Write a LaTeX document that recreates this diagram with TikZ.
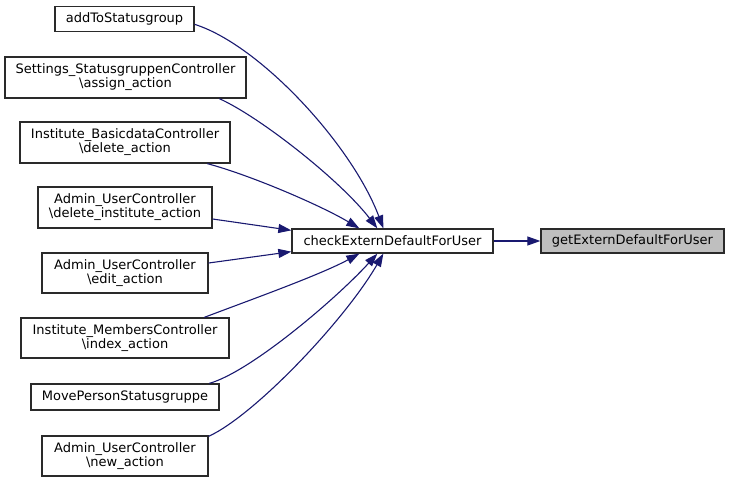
\documentclass[tikz,border=0pt]{standalone}
\usepackage{fontspec}
\setmainfont{DejaVu Sans}
\usetikzlibrary{arrows.meta,calc}
\definecolor{edgeblue}{HTML}{191970}
\definecolor{boxgray}{HTML}{BFBFBF}
\definecolor{boxline}{HTML}{2A2A2A}
\tikzset{
  fnbox/.style={draw=boxline, line width=1.3pt, inner sep=0pt, align=center,
    font=\fontsize{13}{14}\selectfont},
  calledge/.style={draw=edgeblue, line width=1.1pt, -{Triangle[length=13pt,width=9pt]}}
}
\begin{document}
\begin{tikzpicture}[x=1pt,y=-1pt]
\useasboundingbox (0,0) rectangle (729,482);
% source nodes
\node[fnbox, minimum width=139pt, minimum height=25pt] (add) at (124.5,19) {addToStatusgroup};
\node[fnbox, minimum width=241pt, minimum height=41pt] (assign) at (125.5,77.5) {Settings\_StatusgruppenController\\\textbackslash assign\_action};
\node[fnbox, minimum width=210pt, minimum height=41pt] (basic) at (125,142.5) {Institute\_BasicdataController\\\textbackslash delete\_action};
\node[fnbox, minimum width=174pt, minimum height=41pt] (delinst) at (125,207.5) {Admin\_UserController\\\textbackslash delete\_institute\_action};
\node[fnbox, minimum width=166pt, minimum height=40pt] (edit) at (125,273) {Admin\_UserController\\\textbackslash edit\_action};
\node[fnbox, minimum width=208pt, minimum height=40pt] (index) at (125,338) {Institute\_MembersController\\\textbackslash index\_action};
\node[fnbox, minimum width=188pt, minimum height=26pt] (move) at (125,397) {MovePersonStatusgruppe};
\node[fnbox, minimum width=166pt, minimum height=40pt] (new) at (125,456) {Admin\_UserController\\\textbackslash new\_action};
% targets
\node[fnbox, minimum width=201pt, minimum height=24pt] (check) at (392.5,241) {checkExternDefaultForUser};
\node[fnbox, fill=boxgray, minimum width=183pt, minimum height=24pt] (get) at (632.5,241) {getExternDefaultForUser};
% anchor coordinates on check
\coordinate (tA) at ($(check.north west)+(92,0)$);
\coordinate (tB) at ($(check.north west)+(86,0)$);
\coordinate (tC) at ($(check.north west)+(68,0)$);
\coordinate (tD) at ($(check.north west)+(0,2)$);
\coordinate (tE) at ($(check.south west)+(0,-2)$);
\coordinate (tF) at ($(check.south west)+(68,0)$);
\coordinate (tG) at ($(check.south west)+(86,0)$);
\coordinate (tH) at ($(check.south west)+(92,0)$);
% edges
\draw[calledge] ($(add.north east)+(0,18.5)$) .. controls (260,45) and (352,145) .. (tA);
\draw[calledge] ($(assign.south west)+(215,0)$) .. controls (260,117) and (340,180) .. (tB);
\draw[calledge] ($(basic.south west)+(188,0)$) .. controls (250,175) and (320,205) .. (tC);
\draw[calledge] ($(delinst.east)+(0,11.5)$) -- (tD);
\draw[calledge] ($(edit.east)+(0,-10)$) -- (tE);
\draw[calledge] ($(index.north west)+(184,0)$) .. controls (250,300) and (320,275) .. (tF);
\draw[calledge] ($(move.north west)+(179,0)$) .. controls (250,372) and (335,300) .. (tG);
\draw[calledge] ($(new.north east)+(0,1)$) .. controls (255,415) and (345,320) .. (tH);
\draw[calledge] (check.east) -- (get.west);
\end{tikzpicture}
\end{document}
